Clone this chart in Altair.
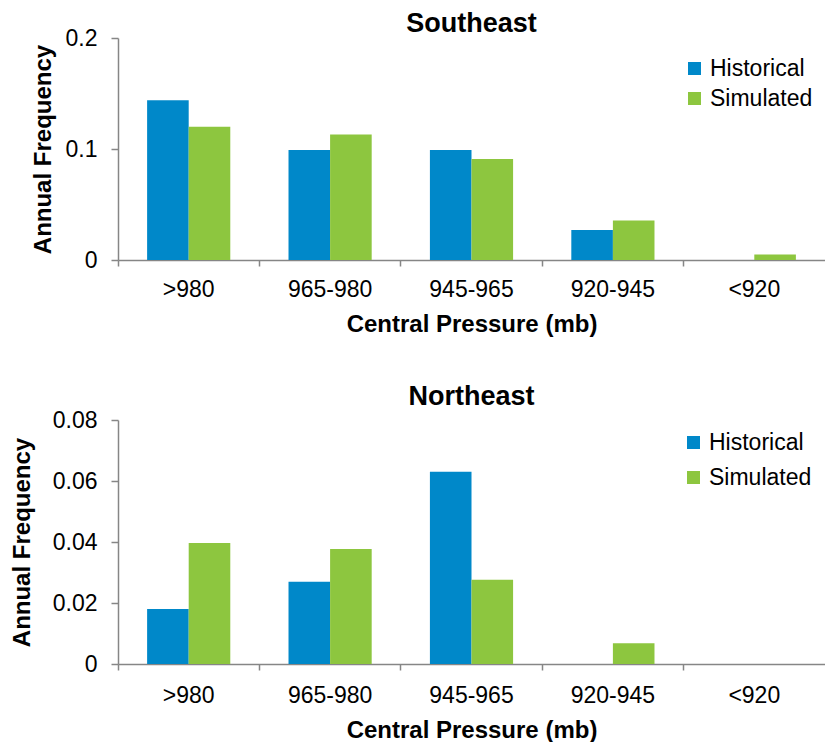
import altair as alt
import pandas as pd

categories = [">980", "965-980", "945-965", "920-945", "<920"]
series = ["Historical", "Simulated"]
se_historical = [0.144, 0.099, 0.099, 0.027, 0.0]
se_simulated = [0.120, 0.113, 0.091, 0.0355, 0.005]
ne_historical = [0.018, 0.027, 0.063, 0.0, 0.0]
ne_simulated = [0.0397, 0.0377, 0.0276, 0.0068, 0.0]

colors = ["#0088C9", "#8DC63F"]
FONT = "Liberation Sans"


def make_df(hist, sim):
    rows = []
    for c, h, s in zip(categories, hist, sim):
        rows.append({"cat": c, "series": "Historical", "value": h})
        rows.append({"cat": c, "series": "Simulated", "value": s})
    return pd.DataFrame(rows)


def panel(df, title, title_offset, ymax, yvals, height, ytitle_pad, xlab_pad, xtitle_pad,
          legend_x, legend_y, row_pad):
    return alt.Chart(df, title=alt.TitleParams(title, fontSize=27, font=FONT, fontWeight="bold",
                                               color="black", anchor="middle", offset=title_offset)).mark_bar().encode(
        x=alt.X("cat:N", sort=categories,
                scale=alt.Scale(paddingInner=0, paddingOuter=0),
                axis=alt.Axis(title="Central Pressure (mb)", labelAngle=0, bandPosition=0,
                              labelPadding=xlab_pad, titlePadding=xtitle_pad)),
        xOffset=alt.XOffset("series:N", sort=series, scale=alt.Scale(paddingInner=0, paddingOuter=0.70)),
        y=alt.Y("value:Q", scale=alt.Scale(domain=[0, ymax], nice=False),
                axis=alt.Axis(title="Annual Frequency", values=yvals, format="~g", titlePadding=ytitle_pad)),
        color=alt.Color("series:N", sort=series, scale=alt.Scale(domain=series, range=colors),
                        legend=alt.Legend(title=None, orient="none", legendX=legend_x, legendY=legend_y,
                                          symbolType="square", symbolSize=169, symbolOpacity=1,
                                          labelFontSize=23, labelFont=FONT, labelColor="black",
                                          rowPadding=row_pad, labelOffset=4, symbolStrokeWidth=0)),
    ).properties(width=707, height=height)


top = panel(make_df(se_historical, se_simulated), "Southeast", -11, 0.2, [0, 0.1, 0.2], 222,
            10, 12, 11, 565, 19, 6)
bottom = panel(make_df(ne_historical, ne_simulated), "Northeast", -2, 0.08, [0, 0.02, 0.04, 0.06, 0.08], 244,
               18, 14, 11, 564, 11, 11)

chart = alt.vconcat(top, bottom, spacing=47).resolve_scale(color="independent").resolve_legend(
    color="independent"
).properties(
    padding={"left": 2, "top": 2, "right": 0, "bottom": 0}
).configure_view(stroke=None).configure_axis(
    labelFont=FONT, titleFont=FONT, labelFontSize=23, titleFontSize=24,
    labelColor="black", titleColor="black", titleFontWeight="bold",
    domainColor="#868686", tickColor="#868686", domainWidth=1.5, tickWidth=1.5, grid=False,
).configure_axisX(tickSize=6).configure_axisY(tickSize=7, labelPadding=14)

chart.save("out.html", embed_options={"renderer": "svg", "actions": False})
